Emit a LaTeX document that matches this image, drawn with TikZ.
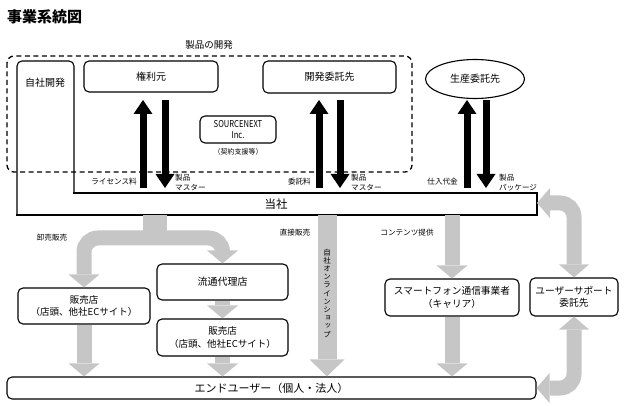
\documentclass[tikz,border=0pt]{standalone}
\usepackage{graphicx}
\usepackage{fontspec}
\setmainfont{Noto Sans CJK JP}
\newfontfamily\jpv{Noto Sans CJK JP}[RawFeature=+vert]
\usetikzlibrary{arrows.meta,shapes.geometric}
\definecolor{garr}{RGB}{198,198,198}
\begin{document}
\begin{tikzpicture}[x=1pt,y=-1pt,
  box/.style={draw,line width=1.1pt,rounded corners=5pt,fill=white,inner sep=0pt,align=center,font=\fontsize{10}{12.5}\selectfont},
  lbl/.style={inner sep=0pt,font=\fontsize{7.6}{9.5}\selectfont,align=left},
  barr/.style={line width=7pt,-{Triangle[width=19pt,length=14pt,line width=0pt]}},
  garrow/.style={draw=garr,line width=15pt,-{Triangle[width=31pt,length=13pt,line width=0pt]}},
  garrowtwo/.style={draw=garr,line width=15pt,{Triangle[width=30pt,length=13pt,line width=0pt]}-{Triangle[width=30pt,length=13pt,line width=0pt]}},
  garrowwide/.style={draw=garr,line width=19pt,-{Triangle[width=35pt,length=17pt,line width=0pt]}}
]
\useasboundingbox (0,0) rectangle (624,406);

% title
\node[font=\bfseries\fontsize{15}{18}\selectfont,anchor=west,inner sep=0pt] (title) at (7,17) {事業系統図};

% dashed development frame
\node[font=\fontsize{9.5}{11}\selectfont,inner sep=0pt] (devlbl) at (209,45) {製品の開発};
\draw[line width=1.3pt,dash pattern=on 5pt off 3.5pt,rounded corners=7pt] (7,56) rectangle (412,172);

% Tosha / in-house development shape
\draw[line width=1.1pt,line cap=rect,rounded corners=5pt] (17,215) -- (17,61) -- (74,61) -- (74,193);
\draw[line width=1.1pt,line cap=rect] (74,193) -- (537,193) -- (537,215) -- (17,215);
\node[font=\fontsize{10}{12}\selectfont,inner sep=0pt] (jisha) at (45,83) {自社開発};
\node[font=\fontsize{11.5}{13}\selectfont,inner sep=0pt] (tosha) at (276,204) {当社};
\coordinate (toshaE) at (537,203);

% upper nodes
\node[box,minimum width=134,minimum height=31] (kenri) at (151,76.5) {権利元};
\node[box,minimum width=133,minimum height=32] (kaihatsu) at (329.5,77) {開発委託先};
\node[box,minimum width=76,minimum height=27,font=\fontsize{9.5}{11.5}\selectfont] (source) at (238,129.5) {\scalebox{0.8}[1]{SOURCENEXT}\\\scalebox{0.8}[1]{Inc.}};
\node[inner sep=0pt,font=\fontsize{7}{9}\selectfont] (keiyaku) at (238,152) {（契約支援等）};
\node[draw,line width=1.1pt,ellipse,minimum width=99,minimum height=39,inner sep=0pt,font=\fontsize{10}{12}\selectfont] (seisan) at (475,79) {生産委託先};

% black arrows
\draw[barr] (143,188) -- (143,100);
\draw[barr] (165,100) -- (165,188);
\draw[barr] (319,188) -- (319,100);
\draw[barr] (340,100) -- (340,188);
\draw[barr] (467,188) -- (467,100);
\draw[barr] (486,100) -- (486,188);

\node[lbl,anchor=east] (l1) at (137,182) {ライセンス料};
\node[lbl,anchor=west] (l2) at (175,182.5) {製品\\マスター};
\node[lbl,anchor=east] (l3) at (311,182) {委託料};
\node[lbl,anchor=west] (l4) at (351,182.5) {製品\\マスター};
\node[lbl,anchor=east] (l5) at (458,182) {仕入代金};
\node[lbl,anchor=west] (l6) at (499,182.5) {製品\\パッケージ};

% lower nodes
\node[box,minimum width=132,minimum height=36,font=\fontsize{9.5}{12.5}\selectfont] (hanL) at (84,306) {販売店\\（店頭、他社ECサイト）};
\node[box,minimum width=131,minimum height=36] (ryutsu) at (222.5,282) {流通代理店};
\node[box,minimum width=131,minimum height=37,font=\fontsize{9.5}{12.5}\selectfont] (hanR) at (222.5,337.5) {販売店\\（店頭、他社ECサイト）};
\node[box,minimum width=134,minimum height=37,font=\fontsize{9.7}{12.5}\selectfont] (smart) at (452,297.5) {スマートフォン通信事業者\\（キャリア）};
\node[box,minimum width=88,minimum height=38,font=\fontsize{9.7}{12.5}\selectfont] (support) at (574,297) {ユーザーサポート\\委託先};
\node[box,minimum width=529,minimum height=22,font=\fontsize{11}{13}\selectfont] (user) at (271.5,388) {エンドユーザー（個人・法人）};

% gray arrows
\fill[garr] (143,215) rectangle (167,244);
\draw[garrow,rounded corners=14pt] (155,238) -- (hanL.north |- 0,238) -- (hanL.north);
\draw[garrow,rounded corners=14pt] (155,238) -- (ryutsu.north |- 0,238) -- (ryutsu.north);
\draw[garrow] (ryutsu.south) -- (hanR.north);
\draw[garrow] (hanL.south) -- (hanL.south |- user.north);
\draw[garrow] (hanR.south) -- (hanR.south |- user.north);
\draw[garrowwide] (327,215.5) -- (327,0 |- user.north);
\draw[garrow] (smart.north |- 0,215.5) -- (smart.north);
\draw[garrow] (smart.south) -- (smart.south |- user.north);
\draw[garrowtwo,rounded corners=14pt] (support.north) -- (support.north |- toshaE) -- (toshaE);
\draw[garrowtwo,rounded corners=14pt] (support.south) -- (support.south |- user.east) -- (user.east);

% vertical label
\node[inner sep=0pt,align=center,font=\jpv\fontsize{7.5}{8.2}\selectfont] (online) at (327,293) {自\\社\\オ\\ン\\ラ\\イ\\ン\\シ\\ョ\\ッ\\プ};

\node[lbl] (w1) at (52,238) {卸売販売};
\node[lbl] (w2) at (295,233) {直接販売};
\node[lbl] (w3) at (407,233) {コンテンツ提供};
\end{tikzpicture}
\end{document}
